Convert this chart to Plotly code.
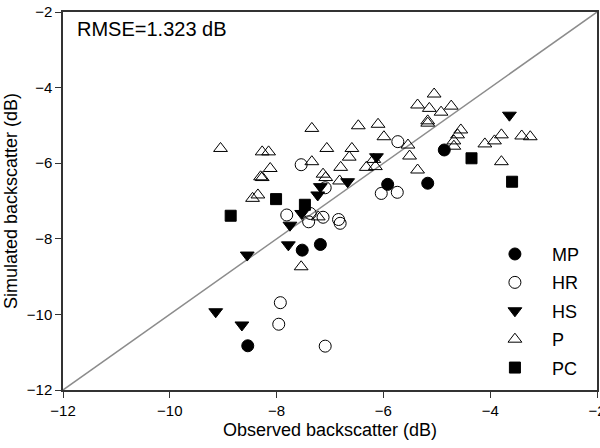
import plotly.graph_objects as go

# Observed vs simulated backscatter (dB) per land-cover class
mp_obs = [-5.92, -4.86, -5.17, -7.52, -7.18, -8.54]
mp_sim = [-6.56, -5.65, -6.53, -8.30, -8.15, -10.83]

hr_obs = [-7.54, -5.73, -7.09, -7.81, -7.37, -7.40, -7.13, -6.84, -6.81,
          -6.04, -5.74, -7.93, -7.96, -7.09]
hr_sim = [-6.04, -5.43, -6.65, -7.37, -7.33, -7.55, -7.43, -7.49, -7.59,
          -6.80, -6.77, -9.69, -10.26, -10.84]

hs_obs = [-7.75, -8.55, -7.78, -9.14, -8.65, -7.53, -7.23, -7.18, -6.67,
          -6.13, -3.64]
hs_sim = [-7.64, -8.43, -8.16, -9.93, -10.28, -7.33, -6.84, -6.62, -6.49,
          -5.83, -4.73]

p_obs = [-9.05, -8.27, -8.15, -7.34, -7.34, -8.12, -8.30, -8.27, -8.35, -8.45,
         -6.47, -6.10, -5.99, -7.06, -6.59, -6.64, -6.80, -6.32, -6.15, -7.13,
         -7.08, -6.82, -7.22, -7.54, -5.05, -5.36, -5.14, -4.73, -4.92, -5.17,
         -5.17, -4.55, -4.61, -4.68, -4.68, -4.10, -3.92, -3.79, -3.41, -3.25,
         -3.79, -5.54, -5.51, -5.36, -6.18]
p_sim = [-5.61, -5.70, -5.70, -5.08, -5.96, -6.14, -6.36, -6.38, -6.84, -6.93,
         -5.01, -4.97, -5.30, -5.61, -5.61, -5.84, -6.11, -6.11, -6.09, -6.29,
         -6.38, -6.47, -7.42, -8.74, -4.17, -4.46, -4.55, -4.49, -4.65, -4.88,
         -4.94, -5.12, -5.25, -5.41, -5.55, -5.49, -5.41, -5.25, -5.28, -5.30,
         -5.96, -5.52, -5.81, -6.18, -5.90]

pc_obs = [-8.86, -8.01, -7.47, -4.35, -3.59]
pc_sim = [-7.39, -6.95, -7.10, -5.87, -6.49]

axis_range = [-12, -2]
tick_vals = [-12, -10, -8, -6, -4, -2]
rmse_label = "RMSE=1.323 dB"

FONT = "Liberation Sans, Arial, sans-serif"

fig = go.Figure()

# 1:1 reference line
fig.add_trace(go.Scatter(
    x=axis_range, y=axis_range, mode="lines",
    line=dict(color="#8c8c8c", width=1.5), showlegend=False, hoverinfo="skip"))

series = [
    ("MP", mp_obs, mp_sim, "circle", "black", 12),
    ("HR", hr_obs, hr_sim, "circle-open", "black", 12),
    ("HS", hs_obs, hs_sim, "triangle-down", "black", 12),
    ("P", p_obs, p_sim, "triangle-up-open", "black", 12),
    ("PC", pc_obs, pc_sim, "square", "black", 11),
]
for name, xs, ys, sym, col, size in series:
    fig.add_trace(go.Scatter(
        x=xs, y=ys, mode="markers", name=name, legendgroup=name,
        marker=dict(symbol=sym, size=size, color=col,
                    line=dict(color="black", width=1))))

axis_common = dict(
    range=axis_range, tickvals=tick_vals, ticks="outside", ticklen=6,
    tickwidth=1, tickcolor="#333", showline=True, linecolor="#333",
    linewidth=1.5, mirror=True, showgrid=False, zeroline=False,
    automargin=False,
    tickfont=dict(family=FONT, size=15, color="black"),
)

fig.update_xaxes(title=dict(text="Observed backscatter (dB)",
                            font=dict(family=FONT, size=18, color="black"),
                            standoff=6),
                 ticklabeloverflow="allow", **axis_common)
fig.update_yaxes(title=dict(text="Simulated backscatter (dB)",
                            font=dict(family=FONT, size=18, color="black"),
                            standoff=4), **axis_common)

fig.add_annotation(
    x=0.022, y=0.99, xref="paper", yref="paper", xanchor="left",
    yanchor="top", text=rmse_label, showarrow=False,
    font=dict(family=FONT, size=20, color="black"))

fig.update_layout(
    width=600, height=448,
    margin=dict(l=63, r=3, t=12, b=58),
    paper_bgcolor="white", plot_bgcolor="white",
    showlegend=True,
    legend=dict(x=0.777, y=0.408, xanchor="left", yanchor="top",
                bgcolor="rgba(0,0,0,0)",
                font=dict(family=FONT, size=18, color="black"),
                tracegroupgap=2, itemwidth=64),
)

fig.write_html("out.html")
